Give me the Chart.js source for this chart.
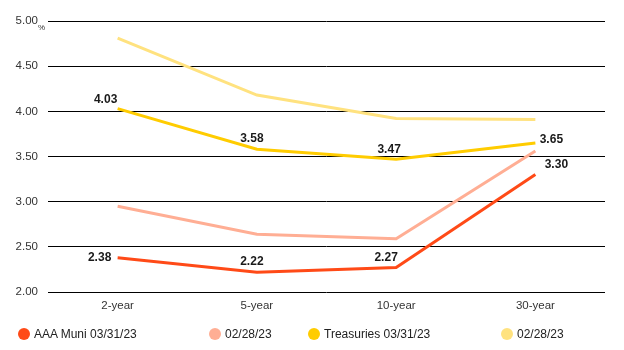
<!DOCTYPE html>
<html>
<head>
<meta charset="utf-8">
<script src="https://cdn.jsdelivr.net/npm/chart.js@4"></script>
<style>
  body { margin: 0; background: #fff; }
  #wrap { position: relative; width: 624px; height: 350px; }
  #legend { position: absolute; left: 0; top: 326px; width: 624px; height: 16px; font-family: "Liberation Sans", Arial, sans-serif; font-size: 12px; color: #222; }
  .item { position: absolute; top: 0; white-space: nowrap; line-height: 16px; }
  .dot { display: inline-block; width: 12px; height: 12px; border-radius: 50%; vertical-align: -2px; margin-right: 4px; }
</style>
</head>
<body>
<div id="wrap">
  <canvas id="chart" width="624" height="350"></canvas>
  <div id="legend"></div>
</div>
<script>
const categories = ['2-year', '5-year', '10-year', '30-year'];
const muniMar = [2.38, 2.22, 2.27, 3.30];
const muniFeb = [2.95, 2.64, 2.59, 3.56];
const treasMar = [4.03, 3.58, 3.47, 3.65];
const treasFeb = [4.81, 4.18, 3.92, 3.91];
const seriesNames = ['AAA Muni 03/31/23', '02/28/23', 'Treasuries 03/31/23', '02/28/23'];
const seriesColors = ['#FF4A17', '#FFAE94', '#FFCC00', '#FFE27F'];

// where the value labels sit relative to their point
const labelOffsets = {
  0: [[-18, 0], [-5, -10], [-10, -10], [21, -10]],
  2: [[-12, -9], [-5, -11], [-7, -10], [16, -3]]
};

const valueLabels = {
  id: 'valueLabels',
  afterDatasetsDraw(chart) {
    const ctx = chart.ctx;
    ctx.save();
    ctx.font = 'bold 12px "Liberation Sans", Arial, sans-serif';
    ctx.fillStyle = '#1a1a1a';
    ctx.textAlign = 'center';
    ctx.textBaseline = 'middle';
    Object.keys(labelOffsets).forEach(function(di) {
      const meta = chart.getDatasetMeta(+di);
      const data = chart.data.datasets[di].data;
      meta.data.forEach(function(pt, i) {
        const off = labelOffsets[di][i];
        ctx.fillText(data[i].toFixed(2), pt.x + off[0], pt.y + off[1]);
      });
    });
    // percent sign next to the top tick
    const y = chart.scales.y;
    ctx.font = '8px "Liberation Sans", Arial, sans-serif';
    ctx.fillStyle = '#333';
    ctx.textAlign = 'left';
    ctx.fillText('%', 38, y.getPixelForValue(5) + 7);
    ctx.restore();
  }
};

const datasets = [muniMar, muniFeb, treasMar, treasFeb].map(function(values, i) {
  return {
    label: seriesNames[i],
    data: values,
    borderColor: seriesColors[i],
    backgroundColor: seriesColors[i],
    borderWidth: 3,
    pointRadius: 0,
    tension: 0,
    order: 4 - i
  };
});

new Chart(document.getElementById('chart'), {
  type: 'line',
  data: { labels: categories, datasets: datasets },
  options: {
    responsive: false,
    animation: false,
    layout: { padding: { top: 21, right: 19, left: 0, bottom: 0 } },
    plugins: { legend: { display: false }, tooltip: { enabled: false } },
    scales: {
      x: {
        offset: true,
        grid: { display: false, drawTicks: false },
        border: { display: false },
        ticks: { color: '#333', padding: 7, font: { family: '"Liberation Sans", Arial, sans-serif', size: 11.5 } },
        afterFit: function(scale) { scale.height = 58; }
      },
      y: {
        min: 2, max: 5,
        grid: { color: '#000', lineWidth: 1, drawTicks: false },
        border: { display: false },
        ticks: {
          stepSize: 0.5,
          padding: 10,
          color: '#333',
          font: { family: '"Liberation Sans", Arial, sans-serif', size: 11.5 },
          callback: function(v) { return v.toFixed(2); }
        },
        afterFit: function(scale) { scale.width = 48; }
      }
    }
  },
  plugins: [valueLabels]
});

const legendPos = [18, 209, 308, 501];
const legend = document.getElementById('legend');
seriesNames.forEach(function(name, i) {
  const item = document.createElement('div');
  item.className = 'item';
  item.style.left = legendPos[i] + 'px';
  item.innerHTML = '<span class="dot" style="background:' + seriesColors[i] + '"></span>' + name;
  legend.appendChild(item);
});
</script>
</body>
</html>
